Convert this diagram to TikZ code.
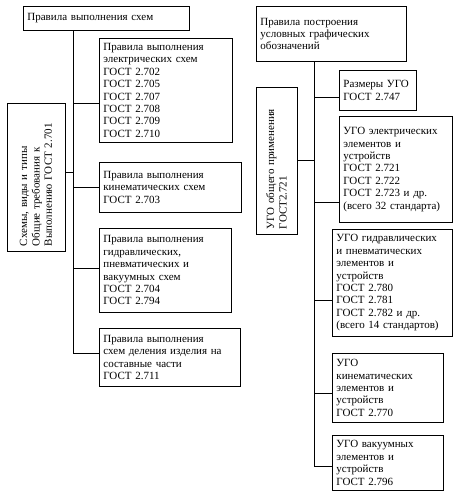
\documentclass[tikz,border=0pt]{standalone}
\usepackage{fontspec}
\setmainfont{Liberation Serif}
\tikzset{
  blok/.style={draw, line width=0.8pt, anchor=north west, align=left,
    inner xsep=4pt, inner ysep=0pt, text width=#1,
    font=\fontsize{11}{12.4}\selectfont},
  vblok/.style={draw, line width=0.8pt, rotate=90, align=left,
    inner xsep=5pt, inner ysep=0pt, text width=#1,
    font=\fontsize{11}{12.4}\selectfont},
  svyaz/.style={line width=0.8pt}
}
\begin{document}
\begin{tikzpicture}[x=1pt,y=-1pt]
      \useasboundingbox (0,0) rectangle (466,500);
      % left column
      \draw
        (23,6) node[blok=158pt, minimum height=24pt] (sxem){Правила выполнения схем}
        (99,38) node[blok=125pt, minimum height=104pt] (el){Правила выполнения\\электрических схем\\ГОСТ 2.702\\ГОСТ 2.705\\ГОСТ 2.707\\ГОСТ 2.708\\ГОСТ 2.709\\ГОСТ 2.710}
        (99,162) node[blok=134pt, minimum height=50pt] (kin){Правила выполнения\\кинематических схем\\ГОСТ 2.703}
        (99,228) node[blok=124pt, minimum height=84pt] (gidr){Правила выполнения\\гидравлических,\\пневматических и\\вакуумных схем\\ГОСТ 2.704\\ГОСТ 2.794}
        (99,328) node[blok=133pt, minimum height=58pt] (del){Правила выполнения\\схем деления изделия на\\составные части\\ГОСТ 2.711}
        (36,177) node[vblok=138pt, minimum height=58pt] (vidy){Схемы, виды и типы\\Общие требования к\\Выполнению ГОСТ 2.701};
      % right column
      \draw
        (256,6) node[blok=142pt, minimum height=55pt] (ugo){Правила построения\\условных графических\\обозначений}
        (339,70) node[blok=69pt, minimum height=40pt] (razm){Размеры УГО\\ГОСТ 2.747}
        (339,116) node[blok=105pt, minimum height=106pt] (uel){УГО электрических\\элементов и\\устройств\\ГОСТ 2.721\\ГОСТ 2.722\\ГОСТ 2.723 и др.\\(всего 32 стандарта)}
        (332,229) node[blok=112pt, minimum height=107pt] (ugidr){УГО гидравлических\\и пневматических\\элементов и\\устройств\\ГОСТ 2.780\\ГОСТ 2.781\\ГОСТ 2.782 и др.\\(всего 14 стандартов)}
        (332,353) node[blok=103pt, minimum height=69pt] (ukin){УГО\\кинематических\\элементов и\\устройств\\ГОСТ 2.770}
        (332,435) node[blok=103pt, minimum height=55pt] (uvak){УГО вакуумных\\элементов и\\устройств\\ГОСТ 2.796}
        (276.5,160.5) node[vblok=137pt, minimum height=41pt] (obsh){УГО общего применения\\ГОСТ2.721};
      \coordinate (spL) at (73,353);
      \coordinate (bEl) at (73,103);
      \coordinate (bVidy) at (73,172);
      \coordinate (bKin) at (73,187);
      \coordinate (bGidr) at (73,268);
      \coordinate (spR) at (314,466);
      \coordinate (bRazm) at (314,97);
      \coordinate (bObsh) at (314,160.5);
      \coordinate (bUel) at (314,202);
      \coordinate (bUgidr) at (314,300);
      \coordinate (bUkin) at (314,393);
      \begin{scope}[svyaz]
        \draw (sxem.south -| spL) to (spL);
        \draw (bEl) to (bEl -| el.west);
        \draw (bVidy) to (bVidy -| vidy.south);
        \draw (bKin) to (bKin -| kin.west);
        \draw (bGidr) to (bGidr -| gidr.west);
        \draw (spL) to (spL -| del.west);
        \draw (ugo.south -| spR) to (spR);
        \draw (bRazm) to (bRazm -| razm.west);
        \draw (bObsh) to (obsh.south);
        \draw (bUel) to (bUel -| uel.west);
        \draw (bUgidr) to (bUgidr -| ugidr.west);
        \draw (bUkin) to (bUkin -| ukin.west);
        \draw (spR) to (spR -| uvak.west);
      \end{scope}
    \end{tikzpicture}
\end{document}
